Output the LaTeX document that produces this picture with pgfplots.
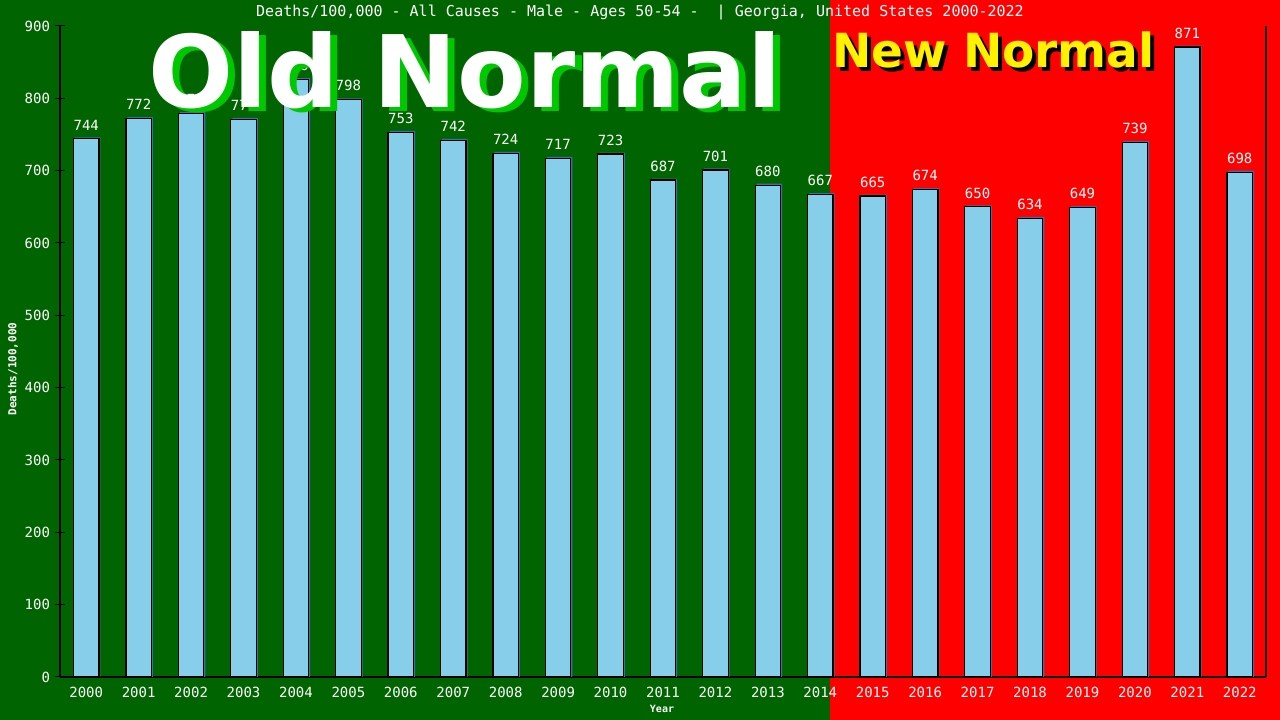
\documentclass[border=0pt]{standalone}
\usepackage{pgfplots}
\usepackage{pgfplotstable}
\pgfplotsset{compat=1.18}
\usepackage{fontspec}
\setmainfont{DejaVu Sans Mono}
\newfontfamily\bigfont{DejaVu Sans}

\definecolor{bggreen}{RGB}{0,100,0}
\definecolor{bgred}{RGB}{255,0,0}
\definecolor{barblue}{RGB}{135,206,235}
\definecolor{barshadow}{RGB}{60,110,170}
\definecolor{oldshadow}{RGB}{0,200,0}

\pgfplotstableread{
x value
0 744
1 772
2 779
3 771
4 826
5 798
6 753
7 742
8 724
9 717
10 723
11 687
12 701
13 680
14 667
15 665
16 674
17 650
18 634
19 649
20 739
21 871
22 698
}\deaths

\begin{document}
\begin{tikzpicture}[x=1pt,y=1pt]
  \useasboundingbox (0,0) rectangle (1280,720);
  \fill[bggreen] (0,0) rectangle (830,720);
  \fill[bgred] (830,0) rectangle (1280,720);

  \begin{axis}[
    at={(60pt,43pt)}, anchor=south west,
    scale only axis,
    width=1206pt, height=651pt,
    xmin=-0.5, xmax=22.5,
    ymin=0, ymax=900,
    separate axis lines,
    axis x line*=bottom,
    axis y line*=left,
    axis line style={black, line width=1.2pt},
    xtick={0,...,22},
    xticklabels={2000,2001,2002,2003,2004,2005,2006,2007,2008,2009,2010,2011,2012,2013,2014,2015,2016,2017,2018,2019,2020,2021,2022},
    ytick={0,100,...,900},
    major x tick style={draw=none},
    major y tick style={black, line width=1pt},
    tick align=center,
    major tick length=9pt,
    ticklabel style={font=\fontsize{14}{14}\selectfont, text=white},
    /pgf/number format/assume math mode=true,
    /pgf/number format/1000 sep={},
    xticklabel style={yshift=-2pt},
    yticklabel style={xshift=-2pt},
    clip=false,
  ]
    % shadow edge of bars
    \addplot[ybar, bar width=25.5pt, bar shift=1.5pt, fill=barshadow, draw=none]
      table[x=x, y expr=\thisrow{value}+2] {\deaths};
    \addplot[ybar, bar width=25.5pt, fill=barblue, draw=black, line width=1.2pt,
      nodes near coords,
      every node near coord/.style={font=\fontsize{14}{14}\selectfont, text=white, inner sep=0pt, yshift=8pt}]
      table[x=x, y=value] {\deaths};
    \draw[black, line width=1.2pt] (rel axis cs:1,0) -- (rel axis cs:1,1);
  \end{axis}

  % title and axis labels
  \node[text=white, font=\fontsize{15}{15}\selectfont] at (640,707)
    {Deaths/100,000 - All Causes - Male - Ages 50-54 -\ \ | Georgia, United States 2000-2022};
  \node[text=white, font=\bfseries\fontsize{10}{10}\selectfont] at (662,11) {Year};
  \node[text=white, rotate=90, font=\bfseries\fontsize{11}{11}\selectfont] at (13,351) {Deaths/100,000};

  % big captions
  \node[anchor=base west, inner sep=0pt, text=oldshadow, font=\bigfont\bfseries\fontsize{100}{100}\selectfont] at (155,608) {Old Normal};
  \node[anchor=base west, inner sep=0pt, text=white, font=\bigfont\bfseries\fontsize{100}{100}\selectfont] at (148,612) {Old Normal};
  \node[anchor=base west, inner sep=0pt, text=black, font=\bigfont\bfseries\fontsize{47}{47}\selectfont] at (836,648) {New Normal};
  \node[anchor=base west, inner sep=0pt, text=yellow, font=\bigfont\bfseries\fontsize{47}{47}\selectfont] at (832,652) {New Normal};
\end{tikzpicture}
\end{document}
